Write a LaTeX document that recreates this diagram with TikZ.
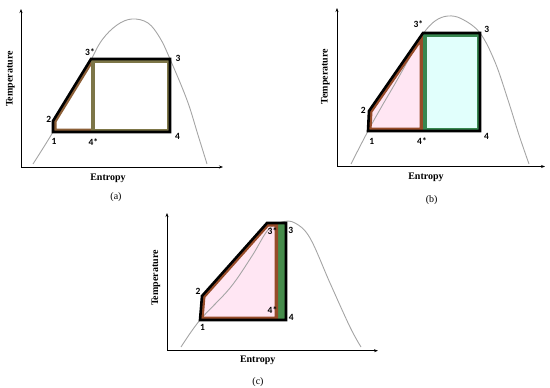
\documentclass[tikz,border=0pt]{standalone}
\usepackage{fontspec}
\setmainfont{Liberation Serif}
\newfontfamily\numfont{Carlito}
\usetikzlibrary{arrows.meta}
\definecolor{domegray}{RGB}{165,165,165}
\definecolor{olivea}{RGB}{125,118,72}
\definecolor{browna}{RGB}{140,95,55}
\definecolor{brownb}{RGB}{150,75,40}
\definecolor{greenb}{RGB}{55,135,80}
\definecolor{pinkf}{RGB}{255,230,243}
\definecolor{cyanf}{RGB}{225,255,252}
\definecolor{greenc}{RGB}{70,140,75}
\tikzset{
  x=1pt, y=-1pt,
  axis/.style={line width=0.8pt, {Stealth[length=4pt,width=3pt]}-{Stealth[length=4pt,width=3pt]}},
  dome/.style={domegray, line width=0.9pt},
  outer/.style={line width=2.6pt, line join=miter},
  band/.style={line width=7pt},
  axlabel/.style={font=\bfseries\fontsize{10}{12}\selectfont, inner sep=0pt},
  ptlabel/.style={font=\numfont\bfseries\fontsize{9.5}{11}\selectfont, inner sep=0pt},
  caplabel/.style={font=\fontsize{10}{12}\selectfont, inner sep=0pt},
}
\newcommand\myband[2]{\begin{scope}\clip #2; \draw[band,#1] #2; \end{scope}}
\begin{document}
\begin{tikzpicture}
\useasboundingbox (0,0) rectangle (550,388);
% ================= panel (a)
\coordinate (aO) at (21,167);
\coordinate (aY) at (21,9);
\coordinate (aX) at (223,167);
\coordinate (a1) at (53,132);
\coordinate (a2) at (53,121);
\coordinate (a3s) at (91,59);
\coordinate (a3) at (170,59);
\coordinate (a4) at (170,132);
\coordinate (a4s) at (91,132);
\draw[axis] (aY) -- (aO) -- (aX);
\draw[dome] plot[smooth, tension=0.6] coordinates {(33,164) (53,132) (72,98) (90,62) (102,40) (117,25) (132,19) (148,23) (160,38) (170,59) (187,100) (198,135) (207,164)};
\fill[white] (a1) -- (a2) -- (a3s) -- (a4s) -- cycle;
\begin{scope}
  \clip (a1) -- (a2) -- (a3s) -- (a4s) -- cycle;
  \draw[band, browna] (a4s) -- (a1) -- (a2) -- (a3s);
\end{scope}
\myband{olivea}{(a3s) -- (a3) -- (a4) -- (a4s) -- cycle}
\draw[outer] (a1) -- (a2) -- (a3s) -- (a3) -- (a4) -- cycle;
\node[ptlabel] (la2) at (48.7,119.3) {2};
\node[ptlabel] (la1) at (54,141) {1};
\node[ptlabel] (la3s) at (90,52.5) {3*};
\node[ptlabel] (la3) at (178,58) {3};
\node[ptlabel] (la4) at (177.5,136.7) {4};
\node[ptlabel] (la4s) at (93.3,141.7) {4*};
\node[axlabel, rotate=90] (aT) at (10.5,79) {Temperature};
\node[axlabel] (aE) at (108,178) {Entropy};
\node[caplabel] (aC) at (116,197.5) {(a)};
% ================= panel (b)
\coordinate (bO) at (337,166.5);
\coordinate (bY) at (337,8);
\coordinate (bX) at (545,166.5);
\coordinate (b1) at (368,131);
\coordinate (b2) at (369,111);
\coordinate (b3s) at (423,33);
\coordinate (b3) at (480,33);
\coordinate (b4) at (480,131);
\coordinate (b4s) at (423,131);
\draw[axis] (bY) -- (bO) -- (bX);
\fill[pinkf] (b1) -- (b2) -- (b3s) -- (b4s) -- cycle;
\fill[cyanf] (b3s) -- (b3) -- (b4) -- (b4s) -- cycle;
\draw[dome] plot[smooth, tension=0.6] coordinates {(351,164) (368,131) (382,106) (396,82) (410,57) (423,34) (435,21) (448,16) (462,19) (480,33) (495,62) (508,100) (519,135) (529,164)};
\myband{brownb}{(b1) -- (b2) -- (b3s) -- (b4s) -- cycle}
\myband{greenb}{(b3s) -- (b3) -- (b4) -- (b4s) -- cycle}
\draw[outer] (b1) -- (b2) -- (b3s) -- (b3) -- (b4) -- cycle;
\node[ptlabel] (lb2) at (363.3,110.3) {2};
\node[ptlabel] (lb1) at (371.7,141) {1};
\node[ptlabel] (lb3s) at (418.3,24) {3*};
\node[ptlabel] (lb3) at (486.7,29) {3};
\node[ptlabel] (lb4) at (486.5,136.7) {4};
\node[ptlabel] (lb4s) at (422,141) {4*};
\node[axlabel, rotate=90] (bT) at (325.3,76.7) {Temperature};
\node[axlabel] (bE) at (426,177.5) {Entropy};
\node[caplabel] (bC) at (431.7,200) {(b)};
% ================= panel (c)
\coordinate (cO) at (167,350.7);
\coordinate (cY) at (167,213);
\coordinate (cX) at (378,350.7);
\coordinate (c1) at (200,320);
\coordinate (c2) at (202,296);
\coordinate (ctl) at (267,223);
\coordinate (c3s) at (278,223);
\coordinate (c3) at (286,223);
\coordinate (c4) at (286,320);
\coordinate (c4s) at (278,320);
\draw[axis] (cY) -- (cO) -- (cX);
\fill[pinkf] (c1) -- (c2) -- (ctl) -- (c3s) -- (c4s) -- cycle;
\fill[greenc] (c3s) -- (c3) -- (c4) -- (c4s) -- cycle;
\draw[dome] plot[smooth, tension=0.6] coordinates {(181,347) (200,320) (230,288) (252,256) (268,230) (282,222) (295,223) (310,238) (330,283) (350,327) (361,347)};
\myband{brownb}{(c1) -- (c2) -- (ctl) -- (c3s) -- (c4s) -- cycle}
\draw[outer] (c1) -- (c2) -- (ctl) -- (c3) -- (c4) -- cycle;
\node[ptlabel] (lc2) at (198,291.7) {2};
\node[ptlabel] (lc1) at (202.5,327.3) {1};
\node[ptlabel] (lc3s) at (272.5,230.8) {3*};
\node[ptlabel] (lc3) at (290.8,230) {3};
\node[ptlabel] (lc4) at (291.2,317.3) {4};
\node[ptlabel] (lc4s) at (272.5,310) {4*};
\node[axlabel, rotate=90] (cT) at (156,278) {Temperature};
\node[axlabel] (cE) at (257.7,360) {Entropy};
\node[caplabel] (cC) at (258,381.7) {(c)};
\end{tikzpicture}
\end{document}
